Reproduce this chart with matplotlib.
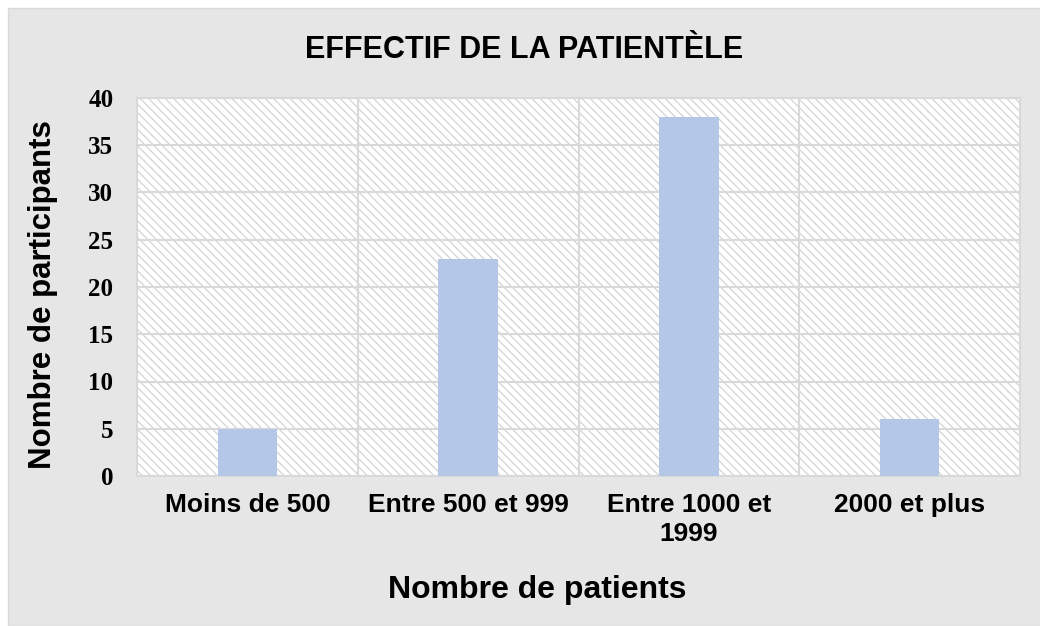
import matplotlib
matplotlib.use("Agg")
import matplotlib.pyplot as plt
from matplotlib.patches import Rectangle

categories = ["Moins de 500", "Entre 500 et 999", "Entre 1000 et\n1999", "2000 et plus"]
values = [5, 23, 38, 6]
yticks = [0, 5, 10, 15, 20, 25, 30, 35, 40]

W, H = 1040, 626
plt.rcParams["hatch.linewidth"] = 0.9
fig = plt.figure(figsize=(W / 100, H / 100), dpi=100, facecolor="white")

# gray chart panel
fig.patches.append(Rectangle((8 / W, 0), 1, 1 - 8 / H, transform=fig.transFigure,
                             facecolor="#E6E6E6", edgecolor="#D9D9D9", lw=1.0, zorder=-5))

ax = fig.add_axes([137 / W, 1 - 476 / H, (1020 - 137) / W, (476 - 98) / H])
ax.set_facecolor("white")
bg = Rectangle((0, 0), 1, 1, transform=ax.transAxes, facecolor="white",
               edgecolor="#D4D4D4", hatch="\\\\\\\\", lw=0, zorder=0)
ax.add_patch(bg)

x = list(range(len(categories)))
ax.bar(x, values, width=0.27, color="#B4C7E7", zorder=3)

ax.set_xlim(-0.5, len(categories) - 0.5)
ax.set_ylim(0, 40)
ax.set_yticks(yticks)
ax.set_yticklabels([str(t) for t in yticks], fontfamily="Liberation Serif",
                   fontweight="bold", fontsize=18)
ax.set_xticks(x)
ax.set_xticklabels(categories, fontfamily="Liberation Sans", fontweight="bold",
                   fontsize=19, linespacing=1.3)
ax.tick_params(axis="both", length=0)
ax.tick_params(axis="y", pad=17)
ax.tick_params(axis="x", pad=12)
for lab in ax.get_xticklabels():
    lab.set_verticalalignment("top")

for y in yticks:
    ax.axhline(y, color="#D9D9D9", lw=1.5, zorder=1)
for b in [0.5, 1.5, 2.5]:
    ax.axvline(b, color="#D9D9D9", lw=1.5, zorder=1)
for s in ax.spines.values():
    s.set_color("#D9D9D9")
    s.set_linewidth(1.5)

fig.text(537 / W, 1 - 598 / H, "Nombre de patients", ha="center", va="baseline",
         fontfamily="Liberation Sans", fontweight="bold", fontsize=23)
fig.text(43 / W, 1 - 295 / H, "Nombre de participants", ha="center", va="center",
         rotation=90, fontfamily="Liberation Sans", fontweight="bold", fontsize=22.5)
fig.text(524 / W, 1 - 58 / H, "EFFECTIF DE LA PATIENTÈLE", ha="center", va="baseline",
         fontfamily="Liberation Sans", fontweight="bold", fontsize=22)

fig.savefig("out.png", dpi=100, facecolor=fig.get_facecolor())
